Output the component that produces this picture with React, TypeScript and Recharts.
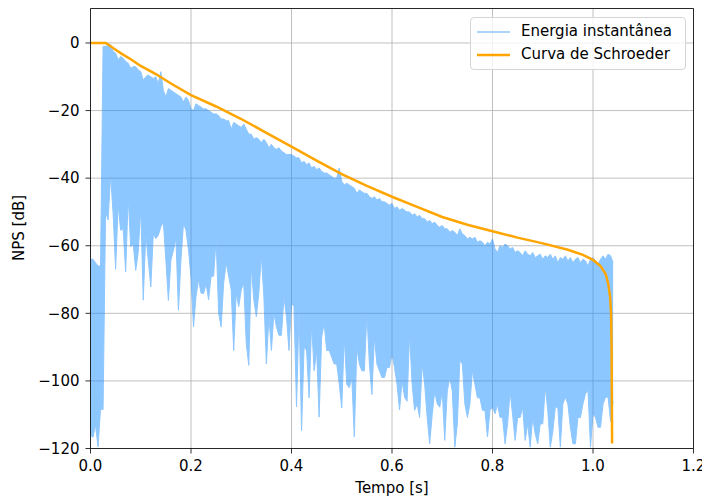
import React from 'react';
import {
  ComposedChart,
  Area,
  Line,
  XAxis,
  YAxis,
  CartesianGrid,
  ReferenceLine,
  Legend,
  Label,
} from 'recharts';

// ---- data ----
const SAMPLE_STEP = 0.005; // seconds between envelope samples

const ENERGY_UPPER = [
  -64, -64, -65, -66, -66, -1, -1, -0.8, -0.5, -2.5,
  -3, -5, -4, -4.5, -5.5, -6, -7.5, -7, -7, -8,
  -8.5, -11, -10, -9.5, -10, -10.5, -10, -12, -8.5, -14,
  -16, -13.5, -14, -14.5, -15, -15.5, -16, -17.5, -16, -17,
  -19.5, -20, -18, -18.5, -19, -19.5, -19.5, -20, -20.5, -21,
  -21, -21.5, -22.5, -22.5, -23, -23, -25.5, -23.5, -24, -24.5,
  -25, -24, -25.5, -27, -27, -28.5, -28, -28.5, -29.5, -28.5,
  -29.5, -31, -30, -31, -31.5, -31, -32, -32.5, -33, -33,
  -33, -33.5, -34, -34, -35.5, -35, -36, -35.5, -37, -36.5,
  -37.5, -37, -38, -38.5, -38.5, -39, -39.5, -40, -40, -37,
  -41, -42, -41.5, -42, -42.5, -43, -44.5, -43.5, -44, -44.5,
  -44.5, -45.5, -46, -45.5, -46.5, -46, -47, -47, -47.5, -48,
  -47.5, -49, -48.5, -49.5, -49, -49.5, -50, -50, -51, -50.5,
  -51.5, -51, -52, -52, -53, -52.5, -53.5, -53, -54, -54.5,
  -54, -55, -55, -56, -55.5, -56, -57, -55, -56.5, -57,
  -58, -57.5, -58, -57.5, -59, -58.5, -59, -60, -59, -59.5,
  -58, -61, -62, -60, -60.5, -59.5, -60, -61, -60.5, -62,
  -61.5, -62, -63, -61.5, -62.5, -63, -62, -63.5, -63, -62.5,
  -64, -63, -63.5, -62.5, -64, -63, -65, -63.5, -64, -63,
  -64.5, -63.5, -65, -64, -63.5, -65, -64, -64.5, -66, -64,
  -63.5, -64.5, -65.5, -64, -63, -64, -62.5, -63, -65,
];

const ENERGY_LOWER = [
  -116, -116.7, -113, -119.5, -108.3, -108.5, -50, -52.4, -39, -50.5,
  -67, -48, -55.4, -55, -67.8, -45.5, -60.3, -59.4, -67.3, -61.8,
  -49, -76.1, -56.4, -64.3, -72.2, -56.4, -57.9, -56.9, -54.4, -53,
  -64.3, -76.2, -64.3, -61.3, -57.9, -79.1, -64.3, -53.4, -55.4, -61.3,
  -69.2, -84, -75, -70, -74, -74.2, -71.2, -76, -69, -69,
  -58, -80, -84, -71, -65, -69, -73, -91, -74, -78,
  -73, -71, -89, -95.4, -66, -76, -81, -74, -62.8, -75,
  -95, -81, -91, -80, -84, -86.5, -86.5, -75, -81, -91,
  -77, -78, -107.7, -79, -114.7, -90, -91, -105, -83, -97,
  -91, -110.7, -87, -83, -91, -91, -93, -95, -95, -100.9,
  -108, -87, -101, -102, -99, -116.6, -90, -95, -97, -97,
  -80, -95, -104, -87, -95, -97, -99, -99, -96, -96,
  -92, -96, -101, -108.6, -100, -104.8, -106, -86, -101, -108.7,
  -106.8, -110.8, -95, -101, -110.8, -118.6, -110, -103, -106.8, -107.8,
  -103, -117.6, -103, -99, -103, -119.6, -112.7, -94, -95, -106.8,
  -110.8, -106.8, -97, -101, -105, -105, -108.7, -108.7, -116.6, -108.7,
  -107.8, -109.7, -107, -110.8, -110.8, -118.6, -112.7, -103, -110, -117.6,
  -110.8, -110.8, -107.8, -117.6, -112.7, -119.6, -110.8, -115.7, -118.6, -112.7,
  -112.7, -101.8, -108.7, -119.6, -115, -107.8, -107.8, -119.6, -106.8, -104.8,
  -106.8, -113.7, -118.6, -118.6, -110.8, -110.8, -106.8, -103.8, -102.8, -119.6,
  -109.7, -110.8, -113.7, -113.7, -106.8, -104.8, -104.8, -112, -106,
];

const SCHROEDER_T = [
  0, 0.025, 0.03, 0.035, 0.04, 0.05, 0.06, 0.08, 0.1, 0.13, 0.16, 0.2, 0.25, 0.3,
  0.35, 0.4, 0.45, 0.5, 0.55, 0.6, 0.65, 0.7, 0.75, 0.8, 0.85, 0.9, 0.95, 0.98,
  1.0, 1.015, 1.025, 1.03, 1.034, 1.036, 1.037, 1.038,
];
const SCHROEDER_DB = [
  0, 0, 0, -0.4, -1, -2, -3, -4.8, -6.8, -9.2, -12, -15.4, -18.8, -22.5,
  -26.6, -30.7, -34.8, -38.8, -42.3, -45.5, -48.5, -51.5, -53.8, -55.7, -57.6, -59.3, -61.2, -62.7,
  -64.2, -66, -68.3, -71, -75, -80, -90, -118.5,
];

const X_TICKS = [0, 0.2, 0.4, 0.6, 0.8, 1.0, 1.2];
const Y_TICKS = [-120, -100, -80, -60, -40, -20, 0];
const X_DOMAIN = [0, 1.2];
const Y_DOMAIN = [-120, 10.2];
const SERIES_NAMES = ['Energia instantânea', 'Curva de Schroeder'];
const X_LABEL = 'Tempo [s]';
const Y_LABEL = 'NPS [dB]';

const energyData = ENERGY_UPPER.map((hi, i) => ({
  t: Number((i * SAMPLE_STEP).toFixed(3)),
  range: [ENERGY_LOWER[i], hi],
}));
const schroederData = SCHROEDER_T.map((t, i) => ({ t, v: SCHROEDER_DB[i] }));

// ---- styles ----
const FONT = "'DejaVu Sans', sans-serif";
const FONT_SIZE = 15;
const BLUE = '#1e90ff';
const BLUE_LIGHT = '#8fc7ff';
const ORANGE = '#ffa500';
const GRID = '#b0b0b0';

const tickStyle = { fill: '#000', fontSize: FONT_SIZE, fontFamily: FONT };
const fmtY = (v: number) => (v < 0 ? '\u2212' + Math.abs(v) : String(v));
const fmtX = (v: number) => v.toFixed(1);

const LegendBox = () => (
  <div
    style={{
      position: 'relative',
      boxSizing: 'border-box',
      width: 216,
      height: 53,
      border: '1px solid #d5d5d5',
      borderRadius: 4,
      background: 'rgba(255,255,255,0.8)',
      fontFamily: FONT,
      fontSize: FONT_SIZE,
      color: '#000',
      lineHeight: 1,
    }}
  >
    {SERIES_NAMES.map((name, i) => (
      <div
        key={name}
        style={{ position: 'absolute', left: 0, top: i === 0 ? 4 : 27, height: 20, width: 214 }}
      >
        <svg width={40} height={20} style={{ position: 'absolute', left: 5, top: 0 }}>
          <line
            x1={1}
            x2={34}
            y1={10}
            y2={10}
            stroke={i === 0 ? BLUE_LIGHT : ORANGE}
            strokeWidth={i === 0 ? 1.5 : 2.5}
          />
        </svg>
        <span style={{ position: 'absolute', left: 50, top: 2, whiteSpace: 'nowrap' }}>{name}</span>
      </div>
    ))}
  </div>
);

export default function App() {
  return (
    <div style={{ position: 'absolute', left: 0, top: 0, width: 702, height: 499, background: '#fff' }}>
      <style>{`.recharts-area { opacity: 0.5; }`}</style>
      <ComposedChart
        width={702}
        height={499}
        data={energyData}
        margin={{ top: 8.5, right: 8.5, bottom: 0, left: 0.5 }}
      >
        <CartesianGrid stroke={GRID} strokeWidth={0.8} />
        <XAxis
          dataKey="t"
          type="number"
          domain={X_DOMAIN}
          ticks={X_TICKS}
          tickFormatter={fmtX}
          interval={0}
          height={50.5}
          tickSize={5}
          tickMargin={6.5}
          tick={tickStyle}
          stroke="#000"
          axisLine={{ stroke: '#000', strokeWidth: 0.8 }}
          tickLine={{ stroke: '#000', strokeWidth: 0.8 }}
          allowDataOverflow
        >
          <Label
            content={() => (
              <text x={392} y={493} textAnchor="middle" fontFamily={FONT} fontSize={FONT_SIZE} fill="#000">
                {X_LABEL}
              </text>
            )}
          />
        </XAxis>
        <YAxis
          type="number"
          domain={Y_DOMAIN}
          ticks={Y_TICKS}
          tickFormatter={fmtY}
          interval={0}
          width={90}
          tickSize={5}
          tickMargin={6}
          tick={tickStyle}
          axisLine={{ stroke: '#000', strokeWidth: 0.8 }}
          tickLine={{ stroke: '#000', strokeWidth: 0.8 }}
          allowDataOverflow
        >
          <Label
            content={() => (
              <text
                x={19}
                y={228}
                transform="rotate(-90 19 228)"
                textAnchor="middle"
                dominantBaseline="middle"
                fontFamily={FONT}
                fontSize={FONT_SIZE}
                fill="#000"
              >
                {Y_LABEL}
              </text>
            )}
          />
        </YAxis>
        <Area
          type="linear"
          dataKey="range"
          name={SERIES_NAMES[0]}
          stroke={BLUE}
          strokeWidth={1}
          fill={BLUE}
          fillOpacity={1}
          dot={false}
          activeDot={false}
          isAnimationActive={false}
        />
        <Line
          data={schroederData}
          type="linear"
          dataKey="v"
          name={SERIES_NAMES[1]}
          stroke={ORANGE}
          strokeWidth={2.5}
          dot={false}
          activeDot={false}
          isAnimationActive={false}
        />
        <ReferenceLine y={Y_DOMAIN[1]} stroke="#000" strokeWidth={0.8} />
        <ReferenceLine x={X_DOMAIN[1]} stroke="#000" strokeWidth={0.8} />
        <Legend
          layout="horizontal"
          verticalAlign="middle"
          align="center"
          wrapperStyle={{ position: 'absolute', left: 470, top: 17, width: 216, height: 53 }}
          content={() => <LegendBox />}
        />
      </ComposedChart>
    </div>
  );
}
